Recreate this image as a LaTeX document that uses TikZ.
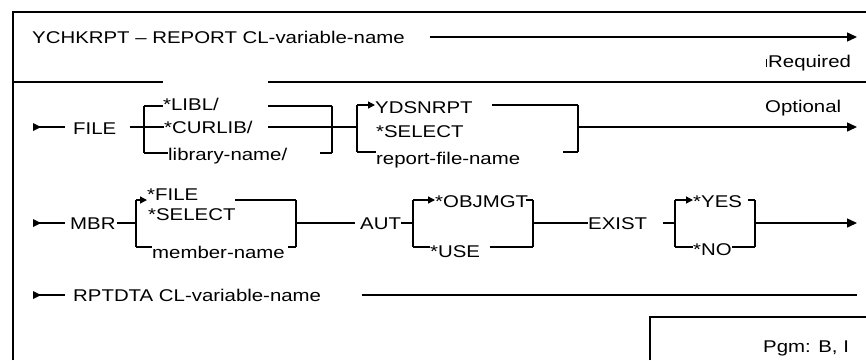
\documentclass[tikz,border=0pt]{standalone}
\usepackage{fontspec}
\setmainfont[FakeStretch=1.2]{Liberation Sans}
\usetikzlibrary{arrows.meta}

\begin{document}
\begin{tikzpicture}[x=1pt, y=-1pt,
    every node/.style={inner sep=0pt, anchor=base west, font=\fontsize{17}{20}\selectfont},
    rail/.style={line width=1.4pt},
    bar/.style={line width=2.8pt, line cap=square},
    frame/.style={line width=2.8pt},
    go/.style={rail, -{Triangle[length=10pt,width=9pt]}},
    branch/.style={rail, -{Triangle[length=7pt,width=7pt]}}]
\useasboundingbox (0,0) rectangle (866,360);

\coordinate (fr1) at (13,360);
\coordinate (fr2) at (13,12);
\coordinate (fr3) at (866,12);
\draw[frame] (fr1) -- (fr2) -- (fr3);
\coordinate (d1) at (13,82);
\coordinate (d2) at (163,82);
\coordinate (d3) at (268,82);
\coordinate (d4) at (866,82);
\draw[rail] (d1) -- (d2) (d3) -- (d4);

\node (cmd) at (32,43) {YCHKRPT – REPORT CL-variable-name};
\node (req) at (768,67) {Required};
\coordinate (t0) at (430,37);
\coordinate (t1) at (857,37);
\draw[go] (t0) -- (t1);
\draw[line width=0.9pt] ([xshift=-2pt]req.base west) -- ++(0,-8);

\node (file) at (73,134) {FILE};
\node (libl) at (163,110) {*LIBL/};
\node (curlib) at (164,133) {*CURLIB/};
\node (libname) at (168,160) {library-name/};
\node (ydsn) at (375,113) {YDSNRPT};
\node (sel1) at (376,137) {*SELECT};
\node (rfile) at (376,164) {report-file-name};
\node (opt) at (765,112) {Optional};

\coordinate (a0) at (33,127);
\coordinate (a1) at (65,127);
\coordinate (a2) at (130,127);
\coordinate (b1t) at (144,106);
\coordinate (b1b) at (144,153);
\coordinate (r1a) at (268,106);
\coordinate (r1b) at (268,127);
\coordinate (r1c) at (320,153);
\coordinate (b2t) at (332,106);
\coordinate (b2m) at (332,127);
\coordinate (b2b) at (332,153);
\coordinate (b3t) at (357,105);
\coordinate (b3m) at (357,127);
\coordinate (b3b) at (357,152);
\coordinate (r2a) at (492,105);
\coordinate (r2b) at (563,152);
\coordinate (b4t) at (578,105);
\coordinate (b4m) at (578,127);
\coordinate (b4b) at (578,152);
\coordinate (e1) at (857,127);

\fill ([yshift=4pt]a0) -- ([xshift=8pt]a0) -- ([yshift=-4pt]a0) -- cycle;
\draw[rail] (a0) -- (a1);
\draw[rail] (a2) -- (curlib.west |- a2);
\draw[rail] (libl.west |- b1t) -- (b1t) (b1b) -- (libname.west |- b1b);
\draw[bar] (b1t) -- (b1b);
\draw[rail] (r1a) -- (b2t) (r1b) -- (b2m) (r1c) -- (b2b);
\draw[bar] (b2t) -- (b2b);
\draw[rail] (b2m) -- (b3m);
\draw[bar] (b3t) -- (b3b);
\draw[branch] (b3t) -- (ydsn.west |- b3t);
\draw[rail] (b3b) -- (rfile.west |- b3b);
\draw[rail] (r2a) -- (b4t) (r2b) -- (b4b);
\draw[bar] (b4t) -- (b4b);
\draw[go] (b4m) -- (e1);

\node (mbr) at (70,229) {MBR};
\node (fileval) at (147,200) {*FILE};
\node (sel2) at (148,220) {*SELECT};
\node (mname) at (152,258) {member-name};
\node (aut) at (360,229) {AUT};
\node (objmgt) at (435,207) {*OBJMGT};
\node (use) at (430,257) {*USE};
\node (exist) at (588,229) {EXIST};
\node (yes) at (693,207) {*YES};
\node (no) at (693,255) {*NO};

\coordinate (m0) at (33,223);
\coordinate (m1) at (65,223);
\coordinate (m2) at (117,223);
\coordinate (b5t) at (136,200);
\coordinate (b5m) at (136,223);
\coordinate (b5b) at (136,247);
\coordinate (r3a) at (235,200);
\coordinate (r3b) at (288,247);
\coordinate (b6t) at (296,200);
\coordinate (b6m) at (296,223);
\coordinate (b6b) at (296,247);
\coordinate (a4) at (355,223);
\coordinate (b7t) at (413,200);
\coordinate (b7m) at (413,223);
\coordinate (b7b) at (413,247);
\coordinate (r4a) at (526,200);
\coordinate (r4b) at (490,247);
\coordinate (b8t) at (533,200);
\coordinate (b8m) at (533,223);
\coordinate (b8b) at (533,247);
\coordinate (r5) at (663,223);
\coordinate (b9t) at (675,200);
\coordinate (b9m) at (675,223);
\coordinate (b9b) at (675,247);
\coordinate (r6a) at (748,200);
\coordinate (b10t) at (755,200);
\coordinate (b10m) at (755,223);
\coordinate (b10b) at (755,247);
\coordinate (e2) at (857,223);

\fill ([yshift=4pt]m0) -- ([xshift=8pt]m0) -- ([yshift=-4pt]m0) -- cycle;
\draw[rail] (m0) -- (m1);
\draw[rail] (m2) -- (b5m);
\draw[bar] (b5t) -- (b5b);
\draw[branch] (b5t) -- (fileval.west |- b5t);
\draw[rail] (b5b) -- (mname.west |- b5b);
\draw[rail] (r3a) -- (b6t) (r3b) -- (b6b);
\draw[bar] (b6t) -- (b6b);
\draw[rail] (b6m) -- (a4);
\draw[rail] (aut.east |- b7m) -- (b7m);
\draw[bar] (b7t) -- (b7b);
\draw[branch] (b7t) -- (objmgt.west |- b7t);
\draw[rail] (b7b) -- (use.west |- b7b);
\draw[rail] (r4a) -- (b8t) (r4b) -- (b8b);
\draw[bar] (b8t) -- (b8b);
\draw[rail] (b8m) -- (exist.west |- b8m);
\draw[rail] (r5) -- (b9m);
\draw[bar] (b9t) -- (b9b);
\draw[branch] (b9t) -- (yes.west |- b9t);
\draw[rail] (b9b) -- (no.west |- b9b);
\draw[rail] (r6a) -- (b10t) (no.east |- b10b) -- (b10b);
\draw[bar] (b10t) -- (b10b);
\draw[go] (b10m) -- (e2);

\node (rptdta) at (73,301) {RPTDTA CL-variable-name};
\coordinate (p0) at (33,295);
\coordinate (p1) at (65,295);
\coordinate (p2) at (362,295);
\coordinate (p3) at (857,295);
\fill ([yshift=4pt]p0) -- ([xshift=8pt]p0) -- ([yshift=-4pt]p0) -- cycle;
\draw[rail] (p0) -- (p1);
\draw[rail] (p2) -- (p3);

\node (pgm) at (763,352) {Pgm: B, I};
\coordinate (g1) at (650,360);
\coordinate (g2) at (650,317);
\coordinate (g3) at (866,317);
\draw[line width=2.2pt] (g1) -- (g2) -- (g3);
\end{tikzpicture}
\end{document}
